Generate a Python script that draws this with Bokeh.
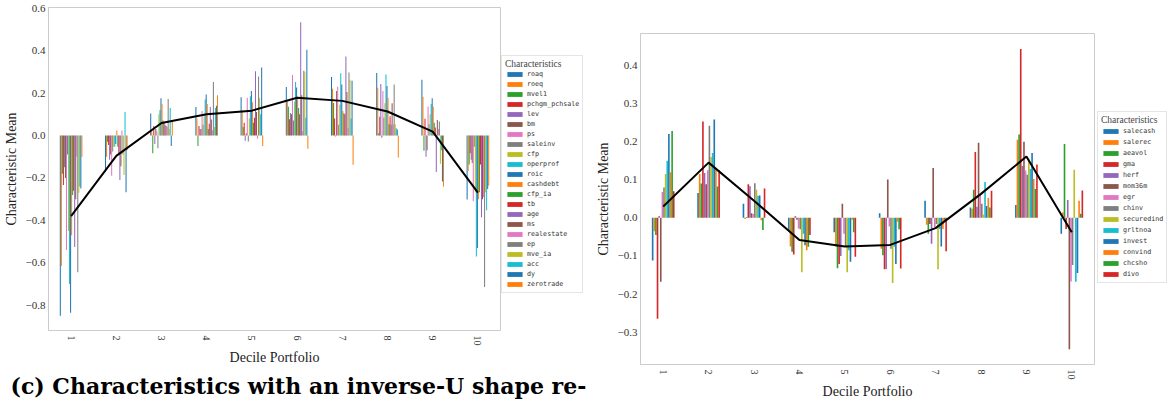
from bokeh.plotting import figure
from bokeh.models import (ColumnDataSource, FactorRange, Range1d, FixedTicker, Legend,
                          LegendItem, Title, GlobalInlineStyleSheet)
from bokeh.transform import dodge
from bokeh.embed import file_html
from bokeh.resources import INLINE

deciles = ["1", "2", "3", "4", "5", "6", "7", "8", "9", "10"]

# ---- left panel (inverse-U characteristics) ----
roaq = [-0.85, -0.17, 0.104, 0.134, 0.18, 0.228, 0.275, 0.294, 0.262, -0.302]
roeq = [-0.615, -0.10, 0.02, 0.08, 0.12, 0.16, 0.22, 0.225, 0.183, -0.168]
mvel1 = [-0.18, -0.03, -0.084, -0.05, 0.04, 0.135, 0.153, 0.01, -0.072, -0.137]
pchgm_pchsale = [-0.233, -0.045, 0.045, 0.045, 0.06, 0.076, 0.08, 0.088, 0.079, -0.084]
lev = [-0.15, -0.115, -0.04, 0.03, -0.025, 0.106, -0.005, 0.243, -0.1, -0.115]
bm = [-0.2, -0.09, 0.03, 0.03, 0.01, 0.1, 0.21, -0.01, -0.07, -0.13]
ps = [-0.54, -0.19, 0.02, 0.115, 0.178, 0.285, 0.23, 0.21, 0.137, -0.31]
saleinv = [-0.09, -0.076, -0.06, 0.05, -0.028, 0.07, 0.05, 0.084, 0.053, -0.053]
cfp = [-0.45, -0.053, 0.1, 0.09, 0.08, 0.16, 0.145, 0.152, 0.1, -0.267]
operprof = [-0.70, -0.053, 0.12, 0.17, 0.185, 0.252, 0.293, 0.287, 0.148, -0.57]
roic = [-0.835, -0.04, 0.175, 0.193, 0.21, 0.226, 0.24, 0.233, 0.175, -0.53]
cashdebt = [-0.47, 0.023, 0.15, 0.148, 0.156, 0.183, 0.115, 0.178, 0.136, -0.3]
cfp_ia = [-0.28, -0.053, 0.07, 0.03, 0.06, 0.13, 0.105, 0.053, 0.06, -0.267]
tb = [-0.26, -0.084, 0.06, 0.055, 0.083, 0.1, 0.1, 0.09, 0.038, -0.137]
age = [-0.526, -0.21, 0.05, 0.134, 0.303, 0.534, 0.372, 0.05, -0.172, -0.385]
ms = [-0.3, -0.145, 0.045, 0.075, 0.11, 0.19, 0.205, 0.152, 0.073, -0.3]
realestate = [-0.1, 0.023, 0.04, 0.025, -0.015, 0.02, 0.035, 0.053, 0.03, -0.29]
ep = [-0.644, -0.09, 0.172, 0.252, 0.278, 0.305, 0.297, 0.24, 0.066, -0.714]
mve_ia = [-0.27, -0.186, 0.03, 0.04, 0.177, 0.3, 0.262, 0.053, -0.133, -0.267]
acc = [-0.24, 0.11, 0.13, 0.13, 0.1, 0.084, 0.08, 0.034, -0.07, -0.352]
dy = [-0.25, -0.267, -0.05, 0.14, 0.32, 0.404, 0.258, 0.028, -0.217, -0.252]
zerotrade = [-0.1, -0.07, 0.07, 0.19, -0.05, -0.063, -0.138, -0.104, -0.24, -0.237]
left_mean = [-0.38, -0.096, 0.059, 0.10, 0.117, 0.178, 0.163, 0.113, 0.018, -0.269]

left_names = ["roaq", "roeq", "mvel1", "pchgm_pchsale", "lev", "bm", "ps", "saleinv",
              "cfp", "operprof", "roic", "cashdebt", "cfp_ia", "tb", "age", "ms",
              "realestate", "ep", "mve_ia", "acc", "dy", "zerotrade"]
left_series = [roaq, roeq, mvel1, pchgm_pchsale, lev, bm, ps, saleinv, cfp, operprof,
               roic, cashdebt, cfp_ia, tb, age, ms, realestate, ep, mve_ia, acc, dy, zerotrade]
left_yticks = [-0.8, -0.6, -0.4, -0.2, 0.0, 0.2, 0.4, 0.6]

# ---- right panel (U-shape characteristics) ----
salecash = [-0.112, 0.065, 0.037, -0.034, -0.038, 0.012, 0.045, 0.027, 0.034, -0.042]
salerec = [-0.035, 0.115, -0.003, -0.075, -0.076, -0.081, -0.018, 0.024, 0.205, 0.015]
aeavol = [-0.045, 0.09, 0.002, -0.089, -0.132, -0.098, -0.042, 0.074, 0.219, 0.194]
gma = [-0.265, 0.253, 0.088, -0.096, -0.121, -0.135, -0.016, 0.173, 0.443, -0.029]
herf = [0.005, 0.118, 0.083, 0.005, -0.1, -0.134, -0.068, 0.029, 0.136, 0.047]
mom36m = [-0.168, 0.088, 0.012, -0.005, 0.037, 0.101, 0.131, 0.197, 0.2, -0.345]
egr = [0.068, 0.125, 0.01, -0.028, -0.042, -0.023, -0.025, 0.061, 0.124, -0.167]
chinv = [0.08, 0.242, 0.091, -0.03, -0.076, -0.081, -0.016, 0.037, 0.113, -0.124]
securedind = [0.115, 0.16, 0.074, -0.143, -0.143, -0.171, -0.135, 0.009, 0.155, 0.126]
grltnoa = [0.15, 0.17, 0.058, -0.042, -0.085, -0.076, -0.029, 0.094, 0.128, -0.168]
invest = [0.22, 0.258, 0.059, -0.072, -0.115, -0.121, -0.075, 0.031, 0.17, -0.145]
convind = [0.12, 0.13, -0.006, -0.085, -0.005, -0.01, -0.029, 0.052, 0.102, 0.045]
chcsho = [0.228, 0.082, -0.032, -0.076, -0.038, -0.03, -0.008, 0.027, 0.076, 0.011]
divo = [0.07, 0.125, 0.077, -0.045, -0.102, -0.133, -0.088, 0.071, 0.14, 0.072]
right_mean = [0.03, 0.145, 0.045, -0.058, -0.075, -0.071, -0.027, 0.063, 0.161, -0.038]

right_names = ["salecash", "salerec", "aeavol", "gma", "herf", "mom36m", "egr", "chinv",
               "securedind", "grltnoa", "invest", "convind", "chcsho", "divo"]
right_series = [salecash, salerec, aeavol, gma, herf, mom36m, egr, chinv, securedind,
                grltnoa, invest, convind, chcsho, divo]
right_yticks = [-0.3, -0.2, -0.1, 0.0, 0.1, 0.2, 0.3, 0.4]

caption = "(c) Characteristics with an inverse-U shape re-"

tab10 = ["#1f77b4", "#ff7f0e", "#2ca02c", "#d62728", "#9467bd",
         "#8c564b", "#e377c2", "#7f7f7f", "#bcbd22", "#17becf"]

SERIF = "Liberation Serif"
FRAME = "#cccccc"


def fmt(v):
    s = "%.1f" % v
    return s.replace("-", "\u2212")


def make_panel(names, series, mean, yr, yticks, width, height, borders, css):
    left, right, top, bottom = borders
    p = figure(x_range=FactorRange(factors=deciles), y_range=Range1d(*yr),
               width=width, height=height, output_backend="svg", toolbar_location=None,
               min_border_left=left, min_border_right=right,
               min_border_top=top, min_border_bottom=bottom, css_classes=[css])
    data = {"decile": deciles}
    for n, s in zip(names, series):
        data[n] = s
    data["mean"] = mean
    src = ColumnDataSource(data)
    k = len(names)
    w = 0.5 / k
    for i, n in enumerate(names):
        off = (i - (k - 1) / 2.0) * w
        p.vbar(x=dodge("decile", off, range=p.x_range), top=n, bottom=0, width=w,
               source=src, fill_color=tab10[i % 10], line_color=None)
    p.line(x="decile", y="mean", source=src, line_color="black", line_width=2)

    p.xgrid.visible = False
    p.ygrid.visible = False
    p.outline_line_color = FRAME
    p.outline_line_width = 1
    p.background_fill_color = "white"
    p.border_fill_color = "white"

    for ax in (p.xaxis[0], p.yaxis[0]):
        ax.axis_line_color = FRAME
        ax.major_tick_out = 0
        ax.major_tick_in = 0
        ax.minor_tick_out = 0
        ax.minor_tick_in = 0
        ax.major_label_text_font = SERIF
        ax.major_label_text_color = "#333333"
        ax.axis_label_text_font = SERIF
        ax.axis_label_text_font_size = "14px"
        ax.axis_label_text_font_style = "normal"
        ax.axis_label_text_color = "#222222"

    p.xaxis.axis_label = "Decile Portfolio"
    p.xaxis.major_label_text_font_size = "10px"
    p.xaxis.major_label_orientation = "vertical"
    p.xaxis.major_label_standoff = 5
    p.xaxis.axis_label_standoff = 1
    p.yaxis.axis_label = "Characteristic Mean"
    p.yaxis.major_label_text_font_size = "11px"
    p.yaxis.ticker = FixedTicker(ticks=yticks)
    p.yaxis.major_label_overrides = {t: fmt(t) for t in yticks}
    p.yaxis.major_label_standoff = 3
    p.yaxis.axis_label_standoff = 4
    return p


def make_legend_fig(names, width, height, loc, label_h, css):
    lf = figure(width=width, height=height, output_backend="svg", toolbar_location=None,
                x_range=Range1d(0, 1), y_range=Range1d(0, 1),
                x_axis_location=None, y_axis_location=None,
                min_border_left=0, min_border_right=0, min_border_top=0, min_border_bottom=0,
                css_classes=[css])
    lf.xgrid.visible = False
    lf.ygrid.visible = False
    lf.outline_line_color = None
    lf.background_fill_color = None
    lf.border_fill_color = None
    # zero-height proxy bars: they only provide the legend swatches
    proxy = ColumnDataSource(dict(x=[0.5], top=[0.0], bottom=[0.0]))
    items = []
    for i, n in enumerate(names):
        r = lf.vbar(x="x", top="top", bottom="bottom", width=0.01, source=proxy,
                    fill_color=tab10[i % 10], line_color=None)
        items.append(LegendItem(label=n, renderers=[r]))
    leg = Legend(items=items, location=loc, title="Characteristics",
                 title_text_font=SERIF, title_text_font_size="9.5px",
                 title_text_font_style="normal", title_standoff=0,
                 label_text_font="DejaVu Sans Mono", label_text_font_size="6.7px",
                 label_text_color="#333333",
                 glyph_width=19, glyph_height=6, label_height=label_h, label_standoff=3,
                 spacing=0, padding=3, margin=0, border_line_color=FRAME,
                 background_fill_color="white", background_fill_alpha=0.85)
    lf.add_layout(leg)
    return lf


p1 = make_panel(left_names, left_series, left_mean, (-0.919, 0.603), left_yticks,
                592, 401, (46, 92, 7, 63), "panelA")
p1.add_layout(Title(text=caption, text_font="DejaVu Serif", text_font_style="bold",
                    text_font_size="22px", text_color="black", align="left",
                    offset=-38, standoff=6), "below")

p2 = make_panel(right_names, right_series, right_mean, (-0.385, 0.484), right_yticks,
                579, 401, (40, 77, 33, 31), "panelB")

leg1 = make_legend_fig(left_names, 86, 401, (0, 108), 10, "legA")
leg2 = make_legend_fig(right_names, 75, 401, (1, 118), 11, "legB")

css = """
body { margin: 0; }
.panelA { position: absolute !important; left: 0px; top: 0px; }
.panelB { position: absolute !important; left: 592px; top: 0px; }
.legA { position: absolute !important; left: 501px; top: 0px; }
.legB { position: absolute !important; left: 1096px; top: 0px; }
"""
p1.stylesheets = [GlobalInlineStyleSheet(css=css)]

open("out.html", "w").write(file_html([p1, p2, leg1, leg2], INLINE))
